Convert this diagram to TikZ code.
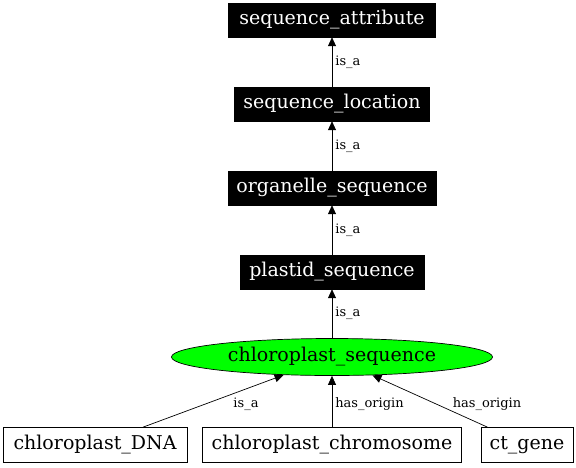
\documentclass[tikz,border=0pt]{standalone}
\usepackage{fontspec}
\setmainfont{DejaVu Serif}
\usetikzlibrary{positioning,
                arrows.meta,                % arrow tips
                shapes.geometric}

\tikzset{
    term/.style={draw, fill=black, text=white, font=\fontsize{19}{22}\selectfont,
                 minimum height=34pt, inner xsep=4pt},
    leaf/.style={draw, fill=white, text=black, font=\fontsize{19}{22}\selectfont,
                 minimum height=35pt, inner xsep=4pt, line width=0.7pt},
    rel/.style={font=\fontsize{13}{15}\selectfont, inner sep=3pt},
    link/.style={-{Triangle[length=9pt,width=8pt]}, black, line width=0.7pt}
}

\begin{document}
\begin{tikzpicture}[x=1pt, y=-1pt]
    \useasboundingbox (0,0) rectangle (576,467);

    \node[term, minimum width=207pt] (attr) at (332,20) {sequence\_attribute};
    \node[term, minimum width=195pt] (loc) at (332,104) {sequence\_location};
    \node[term, minimum width=208pt] (org) at (332,188) {organelle\_sequence};
    \node[term, minimum width=184pt] (plas) at (332,272) {plastid\_sequence};
    \node[ellipse, draw, fill=green, line width=0.7pt, font=\fontsize{19}{22}\selectfont,
          minimum width=321pt, minimum height=37pt, inner sep=0pt] (chlo) at (332,357) {chloroplast\_sequence};

    \node[leaf, minimum width=184pt] (dna) at (95,445) {chloroplast\_DNA};
    \node[leaf, minimum width=259pt] (chrom) at (332,445) {chloroplast\_chromosome};
    \node[leaf, minimum width=92pt] (gene) at (527,445) {ct\_gene};

    % is_a chain
    \draw[link] (loc) -- node[rel, right] {is\_a} (attr);
    \draw[link] (org) -- node[rel, right] {is\_a} (loc);
    \draw[link] (plas) -- node[rel, right] {is\_a} (org);
    \draw[link] (chlo) -- node[rel, right] {is\_a} (plas);

    % leaves
    \draw[link] (dna) -- (chlo);
    \node[rel] (l1) at (246,404) {is\_a};
    \draw[link] (chrom) -- node[rel, right, pos=0.45] {has\_origin} (chlo);
    \draw[link] (gene) -- (chlo);
    \node[rel] (l3) at (487,404) {has\_origin};
\end{tikzpicture}
\end{document}
